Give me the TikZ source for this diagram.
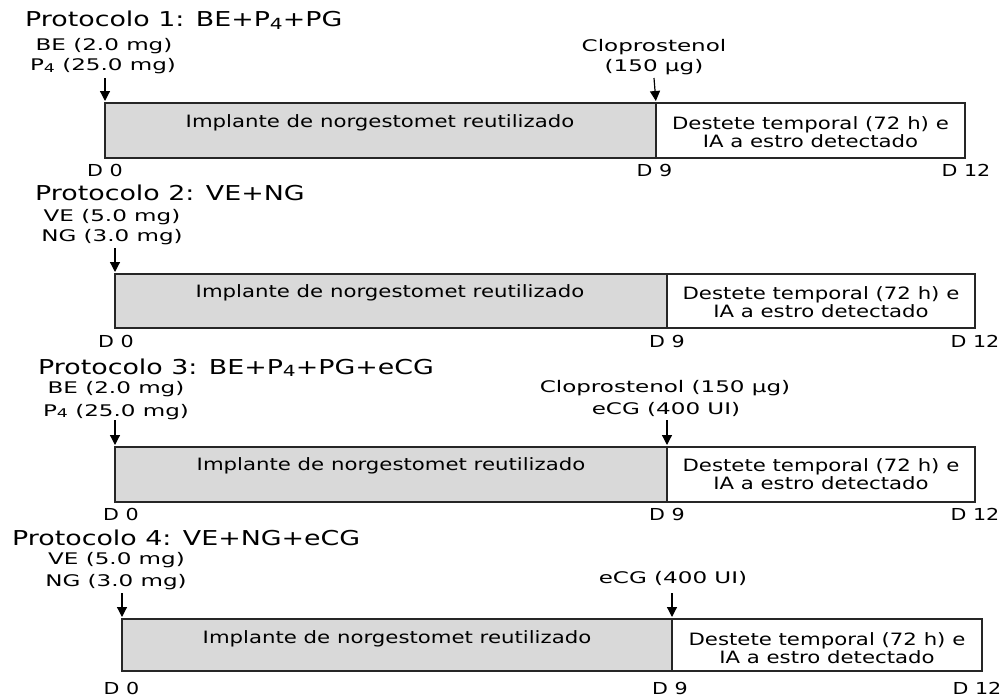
\documentclass[tikz,border=0pt]{standalone}
\usepackage{fontspec}
\usepackage{graphicx}
\setmainfont{DejaVu Sans}
\newfontfamily\fTitle[FakeStretch=1.31]{DejaVu Sans}
\newfontfamily\fLab[FakeStretch=1.44]{DejaVu Sans}
\newfontfamily\fBox[FakeStretch=1.25]{DejaVu Sans}
\newfontfamily\fDay[FakeStretch=1.25]{DejaVu Sans}
\usetikzlibrary{arrows.meta}
\newcommand\subn[1]{\raisebox{-0.12em}{\scalebox{0.75}{#1}}}
\begin{document}
\begin{tikzpicture}[x=1pt,y=-1pt,
 title/.style={font=\fTitle\fontsize{20.5}{24}\selectfont, anchor=base west, inner sep=0pt},
 lab/.style={font=\fLab\fontsize{16}{19}\selectfont, anchor=base, inner sep=0pt},
 boxtxt/.style={font=\fBox\fontsize{17}{20}\selectfont, anchor=base, inner sep=0pt},
 day/.style={font=\fDay\fontsize{16.5}{20}\selectfont, anchor=base, inner sep=0pt},
 implant/.style={draw=black!85, fill=gray!30, line width=1.3pt, outer sep=0pt, inner sep=0pt, anchor=north west},
 weanbox/.style={draw=black!85, fill=white, line width=1.3pt, outer sep=0pt, inner sep=0pt, anchor=north west},
 arr/.style={-{Triangle[length=10pt,width=10pt]}, line width=1.2pt, shorten >=2pt}
]
\useasboundingbox (0,0) rectangle (1005,699);

% ---------- Protocol 1 ----------
\node[title] (t1) at (25,26.7) {Protocolo 1: BE+P\subn{4}+PG};
\node[lab] (l1a) at (104,50) {BE (2.0 mg)};
\node[lab] (l1b) at (103,70.7) {P\subn{4} (25.0 mg)};
\node[lab] (l1c) at (654,51.7) {Cloprostenol};
\node[lab] (l1d) at (654,71.5) {(150 µg)};
\node[implant, minimum width=551pt, minimum height=55pt] (g1) at (105,103) {};
\node[weanbox, minimum width=309pt, minimum height=55pt] (w1) at (656,103) {};
\node[boxtxt] (i1) at (380,127.3) {Implante de norgestomet reutilizado};
\node[boxtxt] (d1a) at (810.5,129) {Destete temporal (72 h) e};
\node[boxtxt] (d1b) at (810.5,147.5) {IA a estro detectado};
\node[day] (z1a) at (105,176) {D 0};
\node[day] (z1b) at (654.5,176) {D 9};
\node[day] (z1c) at (966,176) {D 12};
\coordinate (s1a) at (105,78);
\coordinate (s1b) at (654,78);
\draw[arr] (s1a) -- (g1.north west);
\draw[arr] (s1b) -- (g1.north east);

% ---------- Protocol 2 ----------
\node[title] (t2) at (35,200) {Protocolo 2: VE+NG};
\node[lab] (l2a) at (112,221.7) {VE (5.0 mg)};
\node[lab] (l2b) at (112,241.7) {NG (3.0 mg)};
\node[implant, minimum width=552pt, minimum height=54pt] (g2) at (115,274) {};
\node[weanbox, minimum width=308pt, minimum height=54pt] (w2) at (667,274) {};
\node[boxtxt] (i2) at (390,297.3) {Implante de norgestomet reutilizado};
\node[boxtxt] (d2a) at (821,299.3) {Destete temporal (72 h) e};
\node[boxtxt] (d2b) at (821,317.3) {IA a estro detectado};
\node[day] (z2a) at (116,347.3) {D 0};
\node[day] (z2b) at (667,347.3) {D 9};
\node[day] (z2c) at (975,347.3) {D 12};
\coordinate (s2a) at (115,248);
\draw[arr] (s2a) -- (g2.north west);

% ---------- Protocol 3 ----------
\node[title] (t3) at (38,374.3) {Protocolo 3: BE+P\subn{4}+PG+eCG};
\node[lab] (l3a) at (116,393.3) {BE (2.0 mg)};
\node[lab] (l3b) at (116,416) {P\subn{4} (25.0 mg)};
\node[lab] (l3c) at (665,392.7) {Cloprostenol (150 µg)};
\node[lab] (l3d) at (666,414) {eCG (400 UI)};
\node[implant, minimum width=552pt, minimum height=55pt] (g3) at (115,447) {};
\node[weanbox, minimum width=308pt, minimum height=55pt] (w3) at (667,447) {};
\node[boxtxt] (i3) at (391,470.7) {Implante de norgestomet reutilizado};
\node[boxtxt] (d3a) at (821,471) {Destete temporal (72 h) e};
\node[boxtxt] (d3b) at (821,489) {IA a estro detectado};
\node[day] (z3a) at (121,520) {D 0};
\node[day] (z3b) at (667,520) {D 9};
\node[day] (z3c) at (975,520) {D 12};
\coordinate (s3a) at (115,420);
\coordinate (s3b) at (667,420);
\draw[arr] (s3a) -- (g3.north west);
\draw[arr] (s3b) -- (g3.north east);

% ---------- Protocol 4 ----------
\node[title] (t4) at (12,545.7) {Protocolo 4: VE+NG+eCG};
\node[lab] (l4a) at (116.5,564.3) {VE (5.0 mg)};
\node[lab] (l4b) at (116,586.7) {NG (3.0 mg)};
\node[lab] (l4c) at (673,583.3) {eCG (400 UI)};
\node[implant, minimum width=550pt, minimum height=52pt] (g4) at (122,619) {};
\node[weanbox, minimum width=310pt, minimum height=52pt] (w4) at (672,619) {};
\node[boxtxt] (i4) at (397,643.3) {Implante de norgestomet reutilizado};
\node[boxtxt] (d4a) at (827,645) {Destete temporal (72 h) e};
\node[boxtxt] (d4b) at (827,663.3) {IA a estro detectado};
\node[day] (z4a) at (121.5,694.5) {D 0};
\node[day] (z4b) at (670,694.5) {D 9};
\node[day] (z4c) at (977,694.5) {D 12};
\coordinate (s4a) at (122,593);
\coordinate (s4b) at (672,593);
\draw[arr] (s4a) -- (g4.north west);
\draw[arr] (s4b) -- (g4.north east);
\end{tikzpicture}
\end{document}
